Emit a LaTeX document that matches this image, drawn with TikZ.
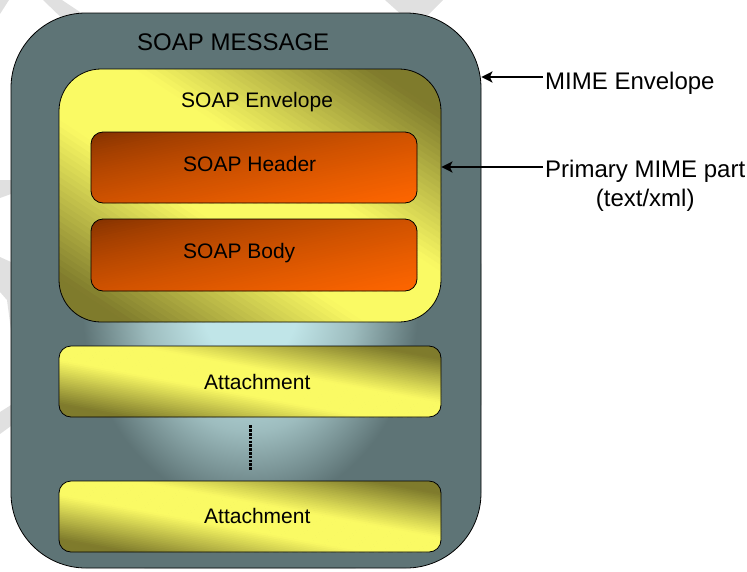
\documentclass[tikz,border=0pt]{standalone}
\usepackage{fontspec}
\setmainfont{Liberation Sans}
\usetikzlibrary{arrows.meta}

\definecolor{slate}{HTML}{5E7476}
\definecolor{glowc}{HTML}{C0E5E8}
\definecolor{glowmid}{HTML}{9DBCBE}
\definecolor{lemon}{HTML}{FAFA64}
\definecolor{olive}{HTML}{7F7B2C}
\definecolor{rust}{HTML}{7A2E00}
\definecolor{flame}{HTML}{FF6600}
\definecolor{wmgray}{HTML}{E0E0E0}

% soft light spot inside the message box
\pgfdeclareradialshading{glow}{\pgfpoint{0bp}{0bp}}{%
  color(0bp)=(glowc); color(5bp)=(glowc); color(11bp)=(glowmid);
  color(17.5bp)=(slate); color(50bp)=(slate)}

% corner-to-corner gradient, rust at top left, flame at bottom right
% #1,#2 top left corner, #3 width, #4 height, #5 corner radius
\newcommand\orangefill[5]{%
  \begin{scope}
    \clip[rounded corners=#5pt] (#1,#2) rectangle ++(#3,#4);
    \begin{scope}[shift={(#1,#2)}, x=#3pt, y=-#4pt]
      \foreach \k in {0,...,59}{%
        \pgfmathsetmacro\ca{\k/30}%
        \pgfmathsetmacro\cb{(\k+1.3)/30}%
        \pgfmathsetmacro\pc{100*((\k+0.5)/60)^0.65}%
        \fill[flame!\pc!rust] (\ca+1,-1) -- (\ca-2,2) -- (\cb-2,2)
          -- (\cb+1,-1) -- cycle;
      }
    \end{scope}
  \end{scope}}

% yellow band from top left to bottom right, olive towards the other corners
\newcommand\yellowfill[5]{%
  \begin{scope}
    \clip[rounded corners=#5pt] (#1,#2) rectangle ++(#3,#4);
    \begin{scope}[shift={(#1,#2)}, x=#3pt, y=-#4pt]
      \foreach \k in {0,...,79}{%
        \pgfmathsetmacro\ca{-1+\k/40}%
        \pgfmathsetmacro\cb{-1+(\k+1.3)/40}%
        \pgfmathsetmacro\sm{-1+(\k+0.5)/40}%
        \pgfmathsetmacro\pf{100*max(0,min(1,(abs(\sm)-0.2)/0.62))}%
        \fill[olive!\pf!lemon] (\ca-1,-1) -- (\ca+2,2) -- (\cb+2,2)
          -- (\cb-1,-1) -- cycle;
      }
    \end{scope}
  \end{scope}}

\begin{document}
\begin{tikzpicture}[x=1pt,y=-1pt,
  box/.style={draw=black, line width=0.8pt, inner sep=0pt},
  msgbox/.style={box, fill=slate, rounded corners=75pt,
    minimum width=470pt, minimum height=555pt,
    path picture={\shade[shading=glow]
      ([xshift=4pt,yshift=-44pt]path picture bounding box.center)
      ellipse [x radius=240pt, y radius=260pt];}},
  envbox/.style={box, rounded corners=42pt, minimum width=382pt,
    minimum height=253pt},
  attbox/.style={box, rounded corners=12pt, minimum width=382pt,
    minimum height=71pt},
  partbox/.style={box, rounded corners=12pt,
    minimum width=326pt, minimum height=71pt},
  boxtext/.style={inner sep=0pt, anchor=base west,
    font=\fontsize{21}{25}\selectfont},
  bigtext/.style={inner sep=0pt, font=\fontsize{24}{29}\selectfont},
  pointer/.style={line width=2.2pt,
    -{Stealth[length=11pt, width=11pt, inset=2.5pt]}},
  ellipsis/.style={line width=3pt, dash pattern=on 2.6pt off 1.2pt}
]
\useasboundingbox (0,0) rectangle (747,571);

% faint background marks
\fill[wmgray] (0,0) -- (9,0) -- (0,14) -- cycle;
\fill[wmgray] (43,0) -- (62,0) -- (92,20) -- (70,26) -- cycle;
\fill[wmgray] (385,0) -- (443,0) -- (426,17) -- (404,17) -- cycle;
\fill[wmgray] (0,180) -- (11,180) -- (11,194) -- (0,198) -- cycle;
\fill[wmgray] (0,257) -- (11,262) -- (11,330) -- (7,300) -- (0,292) -- cycle;
\fill[wmgray] (0,412) -- (11,405) -- (11,426) -- (0,434) -- cycle;

% message box
\node[msgbox] (msg) at (246,290.5) {};

% envelope with header and body
\yellowfill{59}{69}{382}{253}{42}
\node[envbox] (env) at (250,195.5) {};
\orangefill{91}{132}{326}{71}{12}
\node[partbox] (hdr) at (254,167.5) {};
\orangefill{91}{219}{326}{72}{12}
\node[partbox, minimum height=72pt] (bdy) at (254,255) {};

% attachments
\yellowfill{59}{346}{382}{71}{12}
\node[attbox] (att1) at (250,381.5) {};
\yellowfill{59}{481}{382}{71}{12}
\node[attbox] (att2) at (250,516.5) {};

% box labels
\node[bigtext, anchor=base west] (msgt) at (137,50) {SOAP MESSAGE};
\node[boxtext] (envt) at (181,107) {SOAP Envelope};
\node[boxtext] (hdrt) at (183,171) {SOAP Header};
\node[boxtext] (bdyt) at (183,258) {SOAP Body};
\node[boxtext] (att1t) at (204,389) {Attachment};
\node[boxtext] (att2t) at (204,523) {Attachment};

% more attachments may follow
\draw[ellipsis] (att1.south) ++(0,8) coordinate (dtop)
  (dtop) -- ([yshift=10pt]att2.north);

% side labels and pointers
\node[bigtext, anchor=base west] (mime) at (545,89) {MIME Envelope};
\node[bigtext, anchor=base west] (prim) at (545,177) {Primary MIME part};
\node[bigtext, anchor=base] (primx) at ([yshift=-29pt]prim.base) {(text/xml)};

\coordinate (mimeA) at (543,77);
\coordinate (primA) at (543,167);
\draw[pointer] (mimeA) -- (mimeA -| msg.east);
\draw[pointer] (primA) -- (primA -| env.east);
\end{tikzpicture}
\end{document}
